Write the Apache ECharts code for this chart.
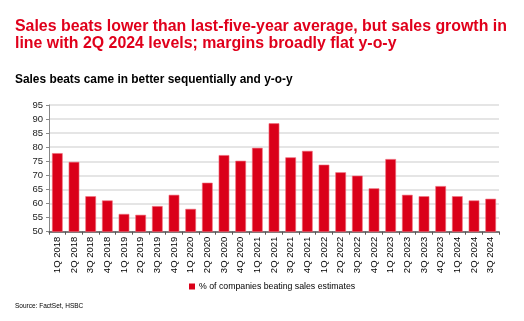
<!DOCTYPE html>
<html><head><meta charset="utf-8">
<script src="https://cdn.jsdelivr.net/npm/echarts@6/dist/echarts.min.js"></script>
<style>html,body{margin:0;padding:0;background:#fff;}#c{width:524px;height:321px;}</style>
</head><body><div id="c"></div>
<script>
const categories = ['1Q 2018','2Q 2018','3Q 2018','4Q 2018','1Q 2019','2Q 2019','3Q 2019','4Q 2019','1Q 2020','2Q 2020','3Q 2020','4Q 2020','1Q 2021','2Q 2021','3Q 2021','4Q 2021','1Q 2022','2Q 2022','3Q 2022','4Q 2022','1Q 2023','2Q 2023','3Q 2023','4Q 2023','1Q 2024','2Q 2024','3Q 2024'];
const beatPct = [77.9,74.8,62.6,61.1,56.3,56.0,59.1,63.1,58.1,67.4,77.2,75.2,79.8,88.5,76.4,78.7,73.8,71.1,69.9,65.4,75.8,63.1,62.6,66.2,62.6,61.1,61.7];
const seriesName = '% of companies beating sales estimates';
const yTicks = {min:50,max:95,interval:5};

const chart = echarts.init(document.getElementById('c'), null, {renderer:'canvas'});
chart.setOption({
  animation:false,
  textStyle:{fontFamily:'Liberation Sans, Arial, sans-serif'},
  title:[
    {text:'Sales beats lower than last-five-year average, but sales growth in\nline with 2Q 2024 levels; margins broadly flat y-o-y',left:15,top:18,padding:0,
     textStyle:{color:'#e0001b',fontSize:15.9,fontWeight:'bold',lineHeight:17,fontFamily:'Liberation Sans, Arial, sans-serif'}},
    {text:'Sales beats came in better sequentially and y-o-y',left:15,top:74,padding:0,
     textStyle:{color:'#000',fontSize:11.9,fontWeight:'bold',fontFamily:'Liberation Sans, Arial, sans-serif'}},
    {text:'Source: FactSet, HSBC',left:15,top:303,padding:0,
     textStyle:{color:'#000',fontSize:6.5,fontWeight:'normal',fontFamily:'Liberation Sans, Arial, sans-serif'}}
  ],
  legend:{data:[seriesName],left:189,top:282,padding:0,itemWidth:6,itemHeight:6,itemGap:2,icon:'rect',
    itemStyle:{borderWidth:0,color:'#da0019'},
    textStyle:{fontSize:8.75,color:'#000',padding:[0,0,0,-1]}},
  grid:{left:49,top:105,width:450,height:126.7,containLabel:false},
  xAxis:{type:'category',data:categories,
    axisLine:{lineStyle:{color:'#555',width:1.5}},
    axisTick:{show:true,length:3,lineStyle:{color:'#555'}},
    axisLabel:{rotate:90,fontSize:9.5,color:'#000',margin:5,interval:0}},
  yAxis:{type:'value',min:yTicks.min,max:yTicks.max,interval:yTicks.interval,
    axisLine:{show:true,lineStyle:{color:'#888'}},
    axisTick:{show:true,length:3,lineStyle:{color:'#888'}},
    axisLabel:{fontSize:9.5,color:'#222',margin:6},
    splitLine:{lineStyle:{color:'#dcdcdc',width:1.5}}},
  series:[{name:seriesName,type:'bar',data:beatPct,barCategoryGap:'36%',
    itemStyle:{color:'#da0019',borderColor:'#f07080',borderWidth:0.6}}]
});
</script></body></html>
